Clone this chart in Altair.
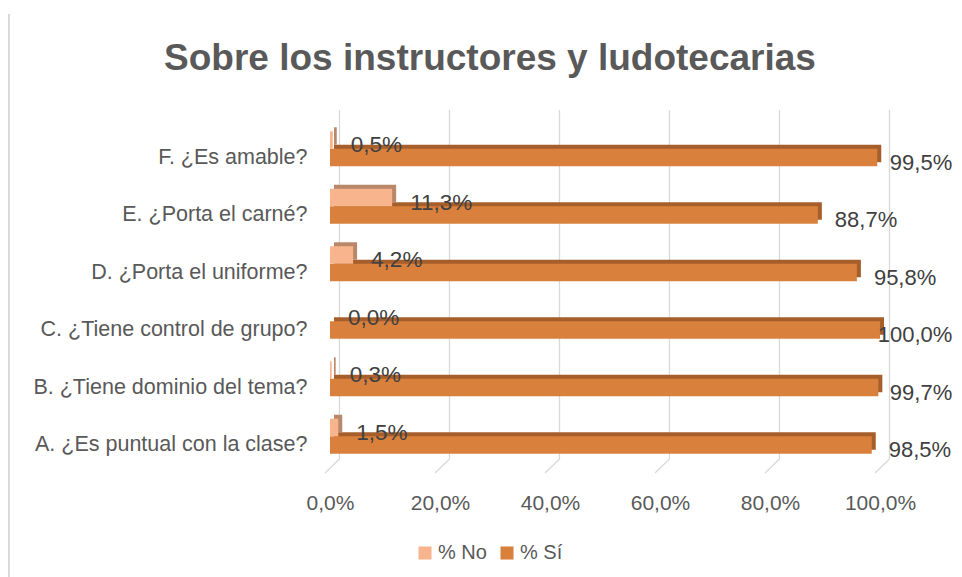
import altair as alt
import pandas as pd

title_text = "Sobre los instructores y ludotecarias"
categories = ["F. ¿Es amable?", "E. ¿Porta el carné?", "D. ¿Porta el uniforme?",
              "C. ¿Tiene control de grupo?", "B. ¿Tiene dominio del tema?",
              "A. ¿Es puntual con la clase?"]
pct_no = [0.5, 11.3, 4.2, 0.0, 0.3, 1.5]
pct_si = [99.5, 88.7, 95.8, 100.0, 99.7, 98.5]
series = ["% No", "% Sí"]
x_ticks = [0, 20, 40, 60, 80, 100]

colors = ["#F8B48C", "#D9803D"]
shadow = ["#B9876A", "#A65E2B"]
FONT = "Liberation Sans"

df_no = pd.DataFrame({"cat": categories, "v": pct_no, "serie": series[0]})
df_si = pd.DataFrame({"cat": categories, "v": pct_si, "serie": series[1]})
ticks_df = pd.DataFrame({"v": x_ticks})
title_df = pd.DataFrame({"t": [title_text]})

W, H = 550, 345
BAR = 17.5
fmt = "replace(format(datum.v, '.1f'), '.', ',') + '%'"

x_scale = alt.Scale(domain=[0, 100], nice=False, zero=True)
x_axis = alt.Axis(values=x_ticks, title=None, grid=False, domain=False, ticks=False,
                  labelExpr="replace(format(datum.value, '.1f'), '.', ',') + '%'",
                  labelFlush=False, labelOverlap=False,
                  labelFontSize=21, labelColor="#595959", labelFont=FONT, labelPadding=27)
y_scale = alt.Scale(domain=categories, paddingInner=0.4, paddingOuter=0.2)
y_axis = alt.Axis(title=None, domain=False, ticks=False, labelPadding=23, labelOffset=9,
                  labelFontSize=21.5, labelColor="#595959", labelFont=FONT, labelLimit=400)


def X():
    return alt.X("v:Q", scale=x_scale, axis=x_axis)


def Y():
    return alt.Y("cat:N", sort=categories, scale=y_scale, axis=y_axis)


color_enc = alt.Color("serie:N", scale=alt.Scale(domain=series, range=colors),
                      legend=alt.Legend(title=None, orient="none", legendX=85, legendY=423,
                                        direction="horizontal", symbolType="square",
                                        symbolSize=170, symbolStrokeWidth=0,
                                        labelFontSize=20, labelColor="#595959",
                                        labelFont=FONT, labelOffset=3, columnPadding=10))

frame = alt.Chart(title_df).mark_rule(color="#d9d9d9", strokeWidth=2).encode(
    x=alt.value(-321), y=alt.value(-106), y2=alt.value(457))

grid = alt.Chart(ticks_df).mark_rule(color="#d9d9d9", strokeWidth=1.3, xOffset=9.5).encode(
    x=X(), y=alt.value(-10), y2=alt.value(339))

floor = alt.Chart(ticks_df).mark_rule(color="#d9d9d9", strokeWidth=1.3,
                                      xOffset=9.5, x2Offset=-5).encode(
    x=X(), x2="v:Q", y=alt.value(339), y2=alt.value(353))

si_shadow = alt.Chart(df_si).mark_bar(height=BAR, yOffset=BAR / 2 - 4, xOffset=4,
                                      color=shadow[1]).encode(x=X(), y=Y())
si_front = alt.Chart(df_si).mark_bar(height=BAR, yOffset=BAR / 2).encode(
    x=X(), y=Y(), color=color_enc)
no_shadow = alt.Chart(df_no).mark_bar(height=BAR, yOffset=-BAR / 2 - 4, xOffset=4,
                                      color=shadow[0]).encode(x=X(), y=Y())
no_front = alt.Chart(df_no).mark_bar(height=BAR, yOffset=-BAR / 2).encode(
    x=X(), y=Y(), color=color_enc)

no_lbl = alt.Chart(df_no).transform_calculate(lbl=fmt).mark_text(
    align="left", baseline="middle", dx=18, dy=-BAR / 2 + 5, fontSize=22.5,
    color="#404040", font=FONT).encode(x=X(), y=Y(), text="lbl:N")
# labels that would run past the chart's right edge are pulled back inside
si_lbl = alt.Chart(df_si).transform_calculate(lbl=fmt).transform_calculate(
    lx="min(datum.v, 98.7 - 2.2 * (length(datum.lbl) - 5))").mark_text(
    align="left", baseline="middle", dx=17, dy=BAR / 2 + 5, fontSize=22,
    color="#404040", font=FONT).encode(
    x=alt.X("lx:Q", scale=x_scale, axis=x_axis), y=Y(), text="lbl:N")

title = alt.Chart(title_df).mark_text(
    align="center", baseline="alphabetic", fontSize=37, fontWeight="bold",
    font=FONT, color="#595959").encode(x=alt.value(160), y=alt.value(-50), text="t:N")

chart = alt.layer(frame, grid, floor, si_shadow, si_front, no_shadow, no_front,
                  no_lbl, si_lbl, title).properties(
    width=W, height=H,
    autosize=alt.AutoSizeParams(type="none"),
    padding={"left": 322, "top": 112, "right": 74, "bottom": 112},
    background="white",
).configure_view(stroke=None)

chart.save("out.html", embed_options={"renderer": "svg", "actions": False})
